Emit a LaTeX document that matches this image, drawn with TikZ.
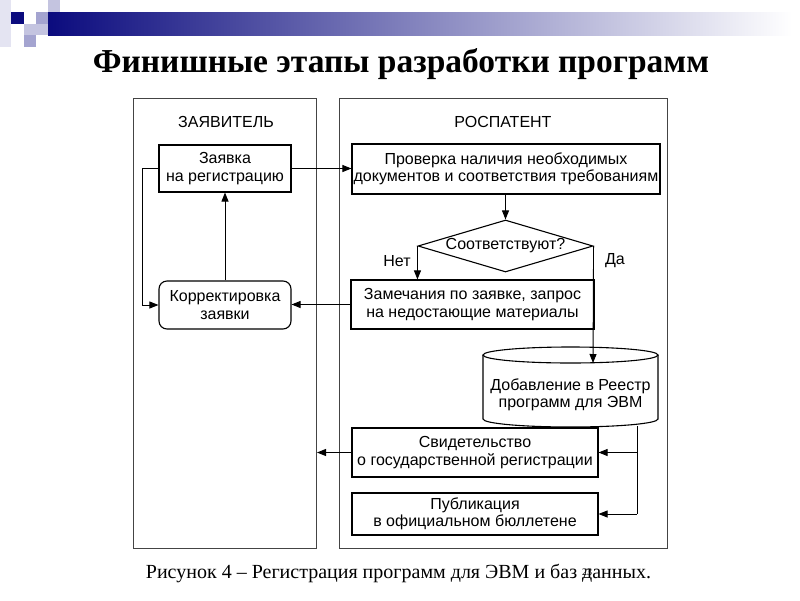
\documentclass[tikz,border=0pt]{standalone}
\usepackage{fontspec}
\setmainfont{Liberation Serif}
\setsansfont{Liberation Sans}
\usetikzlibrary{arrows.meta,shapes.geometric}
\definecolor{navy}{HTML}{0B0B7E}
\definecolor{lav1}{HTML}{E4E4F2}
\definecolor{lav2}{HTML}{C4C4E0}
\definecolor{lav3}{HTML}{A4A4D0}
\definecolor{lanecol}{HTML}{444444}
\begin{document}
\begin{tikzpicture}[x=1pt,y=-1pt,
  lane/.style={draw=lanecol, line width=1pt, inner sep=0pt, anchor=north west},
  box/.style={draw, line width=1.1pt, align=center, inner sep=0pt,
    font=\sffamily\fontsize{16}{17.5}\selectfont},
  conn/.style={line width=0.9pt, -{Triangle[length=9pt,width=7pt]}},
  plainline/.style={line width=0.9pt},
  lbl/.style={font=\sffamily\fontsize{16}{17.5}\selectfont, align=center, inner sep=0pt}
]
\useasboundingbox (0,0) rectangle (800,600);
\fill[white] (0,0) rectangle (800,600);
% slide decoration
\shade[left color=navy, right color=white] (48,12) rectangle (792,35);
\fill[lav1] (0,0) rectangle (11,47);
\fill[navy] (11,12) rectangle (24,24);
\fill[lav2] (24,24) rectangle (36,35);
\fill[lav3] (24,35) rectangle (36,47);
\fill[lav3] (36,12) rectangle (48,24);
\fill[lav2] (36,24) rectangle (48,35);
\fill[lav2] (48,0) rectangle (60,12);
% title
\node[font=\bfseries\fontsize{33.5}{35}\selectfont, inner sep=0pt] (title) at (401,64) {Финишные этапы разработки программ};
% lanes
\node[lane, minimum width=183pt, minimum height=450pt] (applicant) at (133,98) {};
\node[lane, minimum width=328pt, minimum height=450pt] (rospat) at (339,98) {};
\node[lbl] (lblA) at (226,122) {ЗАЯВИТЕЛЬ};
\node[lbl] (lblR) at (503,122) {РОСПАТЕНТ};
% boxes
\node[box, minimum width=132pt, minimum height=47pt] (zayavka) at (225,168.5) {Заявка\\на регистрацию};
\node[box, minimum width=132pt, minimum height=48pt, rounded corners=8pt] (korr) at (225,305) {Корректировка\\заявки};
\node[box, minimum width=308pt, minimum height=50pt] (prov) at (506,169) {Проверка наличия необходимых\\документов и соответствия требованиям};
\node[box, diamond, aspect=3.4, minimum width=175pt, minimum height=52pt] (dia) at (505.5,246) {Соответствуют?};
\node[box, minimum width=243pt, minimum height=49pt] (zam) at (472.5,304.5) {Замечания по заявке, запрос\\на недостающие материалы};
\node[box, minimum width=246pt, minimum height=49pt] (svid) at (475,452.5) {Свидетельство\\о государственной регистрации};
\node[box, minimum width=246pt, minimum height=42pt] (publ) at (475,514) {Публикация\\в официальном бюллетене};
% cylinder
\draw[line width=1.1pt] (570.5,355) ellipse [x radius=87.5pt, y radius=8pt];
\draw[line width=1.1pt] (483,355) -- (483,419) arc[start angle=180, end angle=360, x radius=87.5pt, y radius=8pt] -- (658,355);
\node[lbl] (cyl) at (570.5,395) {Добавление в Реестр\\программ для ЭВМ};
\coordinate (cyltop) at (593,363);
\coordinate (cylbot) at (637,426);
% labels
\node[lbl] (net) at (397,261) {Нет};
\node[lbl] (da) at (615,261) {Да};
% connectors
\draw[conn] (zayavka.east) -- (zayavka.east -| prov.west);
\draw[conn] (korr.north) -- (zayavka.south);
\draw[conn] (zayavka.west) -- ++(-16,0) |- (korr.west);
\draw[conn] (dia.north |- prov.south) -- (dia.north);
\draw[conn] (dia.west) -- (dia.west |- zam.north);
\draw[conn] (dia.east) -- (cyltop);
\draw[conn] (zam.west) -- (zam.west -| korr.east);
\draw[plainline] (cylbot) -- (cylbot |- publ.east);
\draw[conn] (cylbot |- svid.east) -- (svid.east);
\draw[conn] (cylbot |- publ.east) -- (publ.east);
\draw[conn] (svid.west) -- (svid.west -| applicant.east);
% caption
\node[font=\fontsize{20}{22}\selectfont, inner sep=0pt] (caption) at (398.5,573) {Рисунок 4 – Регистрация программ для ЭВМ и баз данных.};
\node[font=\fontsize{10}{11}\selectfont, inner sep=0pt] (pagenum) at (587,572) {23};
\end{tikzpicture}
\end{document}
